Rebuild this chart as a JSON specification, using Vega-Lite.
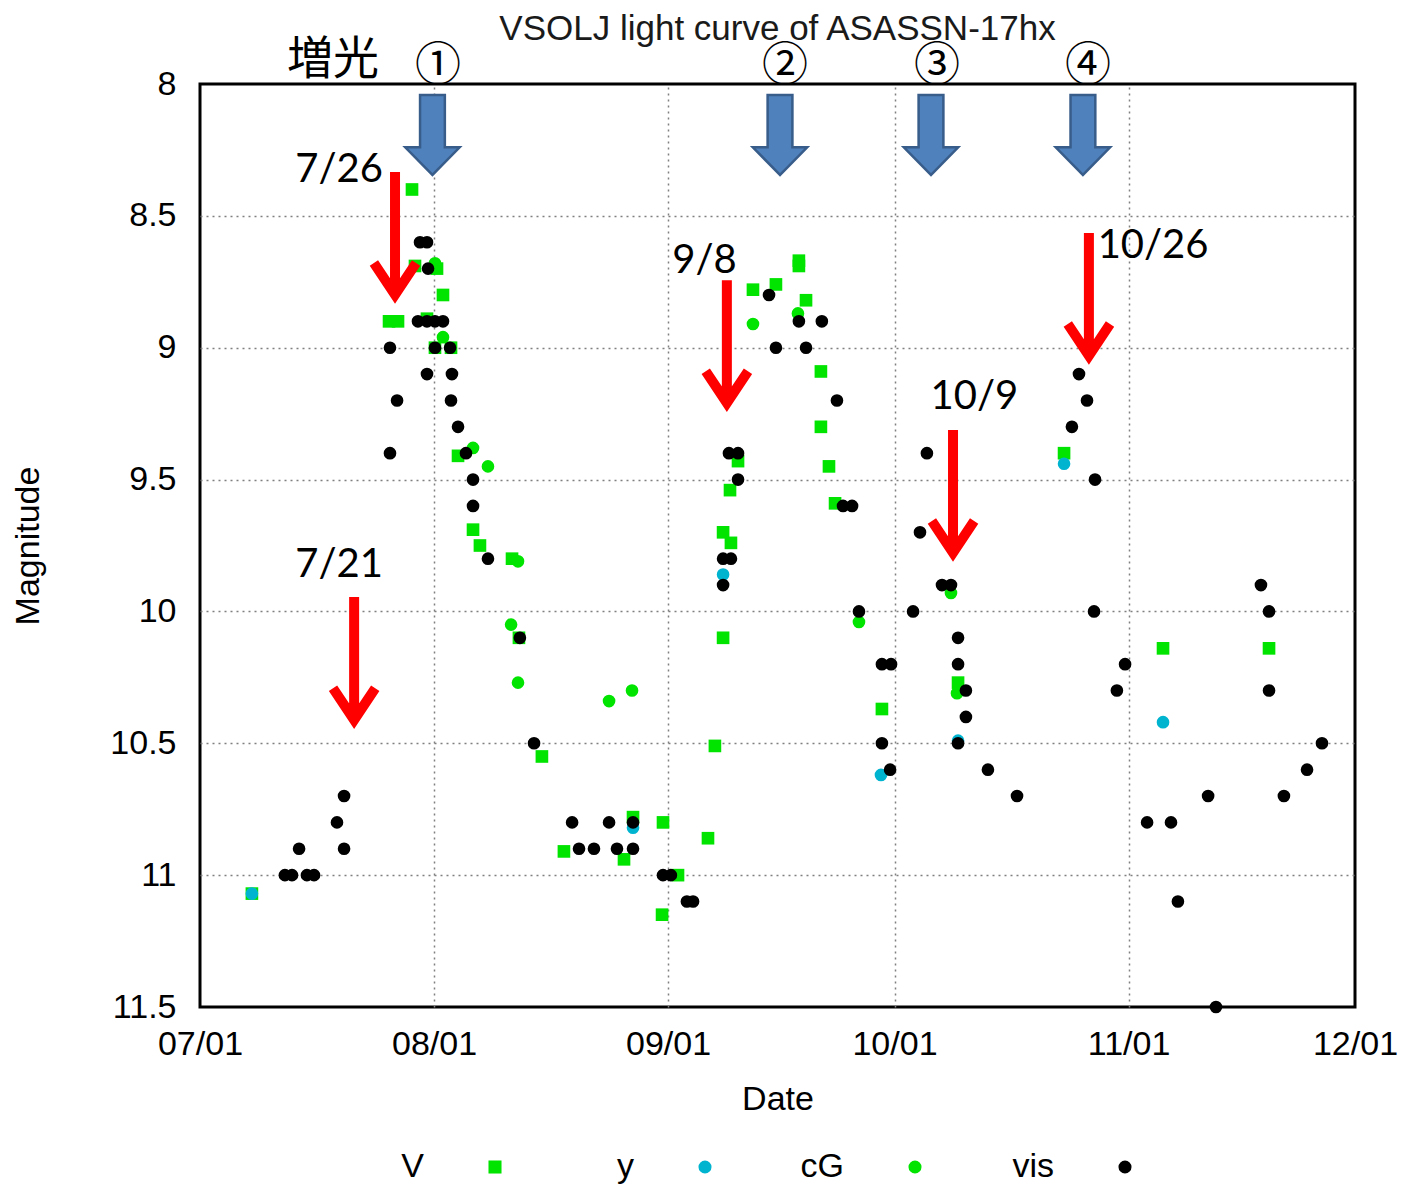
{
  "$schema": "https://vega.github.io/schema/vega-lite/v6.json",
  "width": 1155,
  "height": 923,
  "autosize": {"type": "none"},
  "padding": {"left": 200, "top": 84, "right": 47, "bottom": 178},
  "background": "white",
  "title": {
    "text": "VSOLJ light curve of ASASSN-17hx",
    "font": "Liberation Sans",
    "fontSize": 35,
    "fontWeight": "normal",
    "color": "#1a1a1a",
    "anchor": "middle",
    "frame": "group",
    "offset": 36,
    "dy": 46
  },
  "datasets": {
    "obs": [
      {"date": "2017-07-07T21:00:00Z", "mag": 11.07, "band": "V"},
      {"date": "2017-07-26T01:00:00Z", "mag": 8.90, "band": "V"},
      {"date": "2017-07-27T05:30:00Z", "mag": 8.90, "band": "V"},
      {"date": "2017-07-29T02:00:00Z", "mag": 8.40, "band": "V"},
      {"date": "2017-07-29T11:30:00Z", "mag": 8.69, "band": "V"},
      {"date": "2017-08-01T09:30:00Z", "mag": 8.70, "band": "V"},
      {"date": "2017-07-31T01:40:00Z", "mag": 8.89, "band": "V"},
      {"date": "2017-08-02T04:30:00Z", "mag": 8.80, "band": "V"},
      {"date": "2017-08-01T03:00:00Z", "mag": 9.00, "band": "V"},
      {"date": "2017-08-03T06:00:00Z", "mag": 9.00, "band": "V"},
      {"date": "2017-08-04T04:20:00Z", "mag": 9.41, "band": "V"},
      {"date": "2017-08-06T04:00:00Z", "mag": 9.69, "band": "V"},
      {"date": "2017-08-07T02:00:00Z", "mag": 9.75, "band": "V"},
      {"date": "2017-08-11T08:00:00Z", "mag": 9.80, "band": "V"},
      {"date": "2017-08-12T06:00:00Z", "mag": 10.10, "band": "V"},
      {"date": "2017-08-15T07:00:00Z", "mag": 10.55, "band": "V"},
      {"date": "2017-08-18T05:00:00Z", "mag": 10.91, "band": "V"},
      {"date": "2017-08-26T04:00:00Z", "mag": 10.94, "band": "V"},
      {"date": "2017-08-27T08:40:00Z", "mag": 10.78, "band": "V"},
      {"date": "2017-08-31T08:00:00Z", "mag": 10.80, "band": "V"},
      {"date": "2017-09-02T07:40:00Z", "mag": 11.00, "band": "V"},
      {"date": "2017-08-31T05:00:00Z", "mag": 11.15, "band": "V"},
      {"date": "2017-09-06T07:00:00Z", "mag": 10.86, "band": "V"},
      {"date": "2017-09-07T05:00:00Z", "mag": 10.51, "band": "V"},
      {"date": "2017-09-08T07:00:00Z", "mag": 10.10, "band": "V"},
      {"date": "2017-09-08T07:00:00Z", "mag": 9.70, "band": "V"},
      {"date": "2017-09-09T08:00:00Z", "mag": 9.74, "band": "V"},
      {"date": "2017-09-09T05:00:00Z", "mag": 9.54, "band": "V"},
      {"date": "2017-09-10T06:30:00Z", "mag": 9.43, "band": "V"},
      {"date": "2017-09-12T06:00:00Z", "mag": 8.78, "band": "V"},
      {"date": "2017-09-15T07:00:00Z", "mag": 8.76, "band": "V"},
      {"date": "2017-09-18T08:00:00Z", "mag": 8.67, "band": "V"},
      {"date": "2017-09-18T08:00:00Z", "mag": 8.69, "band": "V"},
      {"date": "2017-09-19T06:40:00Z", "mag": 8.82, "band": "V"},
      {"date": "2017-09-21T06:00:00Z", "mag": 9.09, "band": "V"},
      {"date": "2017-09-21T06:00:00Z", "mag": 9.30, "band": "V"},
      {"date": "2017-09-22T07:40:00Z", "mag": 9.45, "band": "V"},
      {"date": "2017-09-23T03:00:00Z", "mag": 9.59, "band": "V"},
      {"date": "2017-09-29T08:00:00Z", "mag": 10.37, "band": "V"},
      {"date": "2017-10-09T10:00:00Z", "mag": 10.27, "band": "V"},
      {"date": "2017-10-23T11:00:00Z", "mag": 9.40, "band": "V"},
      {"date": "2017-11-05T13:40:00Z", "mag": 10.14, "band": "V"},
      {"date": "2017-11-19T14:40:00Z", "mag": 10.14, "band": "V"},
      {"date": "2017-07-07T21:00:00Z", "mag": 11.07, "band": "y"},
      {"date": "2017-08-27T08:40:00Z", "mag": 10.82, "band": "y"},
      {"date": "2017-09-08T07:00:00Z", "mag": 9.86, "band": "y"},
      {"date": "2017-09-29T05:00:00Z", "mag": 10.62, "band": "y"},
      {"date": "2017-10-09T10:00:00Z", "mag": 10.49, "band": "y"},
      {"date": "2017-10-23T11:00:00Z", "mag": 9.44, "band": "y"},
      {"date": "2017-11-05T13:40:00Z", "mag": 10.42, "band": "y"},
      {"date": "2017-08-01T03:00:00Z", "mag": 8.68, "band": "cG"},
      {"date": "2017-08-02T04:30:00Z", "mag": 8.96, "band": "cG"},
      {"date": "2017-08-06T04:00:00Z", "mag": 9.38, "band": "cG"},
      {"date": "2017-08-08T03:30:00Z", "mag": 9.45, "band": "cG"},
      {"date": "2017-08-12T03:00:00Z", "mag": 9.81, "band": "cG"},
      {"date": "2017-08-11T05:00:00Z", "mag": 10.05, "band": "cG"},
      {"date": "2017-08-12T03:00:00Z", "mag": 10.27, "band": "cG"},
      {"date": "2017-08-24T04:30:00Z", "mag": 10.34, "band": "cG"},
      {"date": "2017-08-27T05:30:00Z", "mag": 10.30, "band": "cG"},
      {"date": "2017-09-12T06:00:00Z", "mag": 8.91, "band": "cG"},
      {"date": "2017-09-18T05:00:00Z", "mag": 8.87, "band": "cG"},
      {"date": "2017-09-26T07:00:00Z", "mag": 10.04, "band": "cG"},
      {"date": "2017-10-08T11:30:00Z", "mag": 9.93, "band": "cG"},
      {"date": "2017-10-09T06:40:00Z", "mag": 10.31, "band": "cG"},
      {"date": "2017-07-12T06:00:00Z", "mag": 11.00, "band": "vis"},
      {"date": "2017-07-13T04:30:00Z", "mag": 11.00, "band": "vis"},
      {"date": "2017-07-14T03:00:00Z", "mag": 10.90, "band": "vis"},
      {"date": "2017-07-15T04:00:00Z", "mag": 11.00, "band": "vis"},
      {"date": "2017-07-16T02:30:00Z", "mag": 11.00, "band": "vis"},
      {"date": "2017-07-19T03:30:00Z", "mag": 10.80, "band": "vis"},
      {"date": "2017-07-20T02:00:00Z", "mag": 10.70, "band": "vis"},
      {"date": "2017-07-20T02:00:00Z", "mag": 10.90, "band": "vis"},
      {"date": "2017-07-26T04:00:00Z", "mag": 9.00, "band": "vis"},
      {"date": "2017-07-27T02:30:00Z", "mag": 9.20, "band": "vis"},
      {"date": "2017-07-26T04:00:00Z", "mag": 9.40, "band": "vis"},
      {"date": "2017-07-30T03:30:00Z", "mag": 8.60, "band": "vis"},
      {"date": "2017-07-31T01:40:00Z", "mag": 8.60, "band": "vis"},
      {"date": "2017-07-31T05:00:00Z", "mag": 8.70, "band": "vis"},
      {"date": "2017-07-29T21:00:00Z", "mag": 8.90, "band": "vis"},
      {"date": "2017-07-31T01:40:00Z", "mag": 8.90, "band": "vis"},
      {"date": "2017-08-01T03:00:00Z", "mag": 8.90, "band": "vis"},
      {"date": "2017-08-02T04:30:00Z", "mag": 8.90, "band": "vis"},
      {"date": "2017-08-01T03:00:00Z", "mag": 9.00, "band": "vis"},
      {"date": "2017-08-03T03:00:00Z", "mag": 9.00, "band": "vis"},
      {"date": "2017-07-31T01:40:00Z", "mag": 9.10, "band": "vis"},
      {"date": "2017-08-03T09:00:00Z", "mag": 9.10, "band": "vis"},
      {"date": "2017-08-03T06:00:00Z", "mag": 9.20, "band": "vis"},
      {"date": "2017-08-04T04:20:00Z", "mag": 9.30, "band": "vis"},
      {"date": "2017-08-05T05:40:00Z", "mag": 9.40, "band": "vis"},
      {"date": "2017-08-06T04:00:00Z", "mag": 9.50, "band": "vis"},
      {"date": "2017-08-06T04:00:00Z", "mag": 9.60, "band": "vis"},
      {"date": "2017-08-08T03:30:00Z", "mag": 9.80, "band": "vis"},
      {"date": "2017-08-12T09:00:00Z", "mag": 10.10, "band": "vis"},
      {"date": "2017-08-14T06:00:00Z", "mag": 10.50, "band": "vis"},
      {"date": "2017-08-19T07:00:00Z", "mag": 10.80, "band": "vis"},
      {"date": "2017-08-20T05:00:00Z", "mag": 10.90, "band": "vis"},
      {"date": "2017-08-22T04:30:00Z", "mag": 10.90, "band": "vis"},
      {"date": "2017-08-24T04:30:00Z", "mag": 10.80, "band": "vis"},
      {"date": "2017-08-25T05:40:00Z", "mag": 10.90, "band": "vis"},
      {"date": "2017-08-27T08:40:00Z", "mag": 10.80, "band": "vis"},
      {"date": "2017-08-27T08:40:00Z", "mag": 10.90, "band": "vis"},
      {"date": "2017-08-31T08:00:00Z", "mag": 11.00, "band": "vis"},
      {"date": "2017-09-01T09:00:00Z", "mag": 11.00, "band": "vis"},
      {"date": "2017-09-03T12:00:00Z", "mag": 11.10, "band": "vis"},
      {"date": "2017-09-04T07:30:00Z", "mag": 11.10, "band": "vis"},
      {"date": "2017-09-08T07:00:00Z", "mag": 9.90, "band": "vis"},
      {"date": "2017-09-08T07:00:00Z", "mag": 9.80, "band": "vis"},
      {"date": "2017-09-09T08:00:00Z", "mag": 9.80, "band": "vis"},
      {"date": "2017-09-09T01:40:00Z", "mag": 9.40, "band": "vis"},
      {"date": "2017-09-10T06:30:00Z", "mag": 9.40, "band": "vis"},
      {"date": "2017-09-10T06:30:00Z", "mag": 9.50, "band": "vis"},
      {"date": "2017-09-14T09:00:00Z", "mag": 8.80, "band": "vis"},
      {"date": "2017-09-15T07:00:00Z", "mag": 9.00, "band": "vis"},
      {"date": "2017-09-18T08:00:00Z", "mag": 8.90, "band": "vis"},
      {"date": "2017-09-19T06:40:00Z", "mag": 9.00, "band": "vis"},
      {"date": "2017-09-21T09:00:00Z", "mag": 8.90, "band": "vis"},
      {"date": "2017-09-23T09:00:00Z", "mag": 9.20, "band": "vis"},
      {"date": "2017-09-24T04:20:00Z", "mag": 9.60, "band": "vis"},
      {"date": "2017-09-25T09:00:00Z", "mag": 9.60, "band": "vis"},
      {"date": "2017-09-26T07:00:00Z", "mag": 10.00, "band": "vis"},
      {"date": "2017-09-29T08:00:00Z", "mag": 10.20, "band": "vis"},
      {"date": "2017-09-30T13:00:00Z", "mag": 10.20, "band": "vis"},
      {"date": "2017-09-29T08:00:00Z", "mag": 10.50, "band": "vis"},
      {"date": "2017-09-30T10:00:00Z", "mag": 10.60, "band": "vis"},
      {"date": "2017-10-03T11:00:00Z", "mag": 10.00, "band": "vis"},
      {"date": "2017-10-04T09:00:00Z", "mag": 9.70, "band": "vis"},
      {"date": "2017-10-05T07:00:00Z", "mag": 9.40, "band": "vis"},
      {"date": "2017-10-07T07:00:00Z", "mag": 9.90, "band": "vis"},
      {"date": "2017-10-08T11:30:00Z", "mag": 9.90, "band": "vis"},
      {"date": "2017-10-09T10:00:00Z", "mag": 10.10, "band": "vis"},
      {"date": "2017-10-09T10:00:00Z", "mag": 10.20, "band": "vis"},
      {"date": "2017-10-10T11:00:00Z", "mag": 10.30, "band": "vis"},
      {"date": "2017-10-10T11:00:00Z", "mag": 10.40, "band": "vis"},
      {"date": "2017-10-09T10:00:00Z", "mag": 10.50, "band": "vis"},
      {"date": "2017-10-13T09:00:00Z", "mag": 10.60, "band": "vis"},
      {"date": "2017-10-17T05:30:00Z", "mag": 10.70, "band": "vis"},
      {"date": "2017-10-24T12:00:00Z", "mag": 9.30, "band": "vis"},
      {"date": "2017-10-25T10:30:00Z", "mag": 9.10, "band": "vis"},
      {"date": "2017-10-26T12:00:00Z", "mag": 9.20, "band": "vis"},
      {"date": "2017-10-27T13:30:00Z", "mag": 9.50, "band": "vis"},
      {"date": "2017-10-27T10:20:00Z", "mag": 10.00, "band": "vis"},
      {"date": "2017-10-30T11:00:00Z", "mag": 10.30, "band": "vis"},
      {"date": "2017-10-31T13:00:00Z", "mag": 10.20, "band": "vis"},
      {"date": "2017-11-03T11:00:00Z", "mag": 10.80, "band": "vis"},
      {"date": "2017-11-06T15:00:00Z", "mag": 10.80, "band": "vis"},
      {"date": "2017-11-07T13:00:00Z", "mag": 11.10, "band": "vis"},
      {"date": "2017-11-11T13:00:00Z", "mag": 10.70, "band": "vis"},
      {"date": "2017-11-12T14:00:00Z", "mag": 11.50, "band": "vis"},
      {"date": "2017-11-18T13:00:00Z", "mag": 9.90, "band": "vis"},
      {"date": "2017-11-19T14:40:00Z", "mag": 10.00, "band": "vis"},
      {"date": "2017-11-19T14:40:00Z", "mag": 10.30, "band": "vis"},
      {"date": "2017-11-21T14:00:00Z", "mag": 10.70, "band": "vis"},
      {"date": "2017-11-24T15:30:00Z", "mag": 10.60, "band": "vis"},
      {"date": "2017-11-26T15:00:00Z", "mag": 10.50, "band": "vis"}
    ],
    "blueArrows": [
      {"date": "2017-07-31T19:00:00Z", "mag": 8.193},
      {"date": "2017-09-15T20:00:00Z", "mag": 8.193},
      {"date": "2017-10-05T20:00:00Z", "mag": 8.193},
      {"date": "2017-10-25T23:00:00Z", "mag": 8.193}
    ],
    "redArrows": [
      {"date": "2017-07-26T20:00:00Z", "mag": 8.584},
      {"date": "2017-07-21T10:00:00Z", "mag": 10.196},
      {"date": "2017-09-08T19:00:00Z", "mag": 8.994},
      {"date": "2017-10-08T18:00:00Z", "mag": 9.562},
      {"date": "2017-10-26T18:00:00Z", "mag": 8.815}
    ],
    "dateNotes": [
      {"date": "2017-07-19T10:00:00Z", "mag": 8.372, "note": "7/26"},
      {"date": "2017-07-19T10:00:00Z", "mag": 9.870, "note": "7/21"},
      {"date": "2017-09-05T20:00:00Z", "mag": 8.717, "note": "9/8"},
      {"date": "2017-10-11T14:00:00Z", "mag": 9.232, "note": "10/9"},
      {"date": "2017-11-04T06:00:00Z", "mag": 8.660, "note": "10/26"}
    ],
    "jpNotes": [
      {"date": "2017-07-18T15:00:00Z", "mag": 7.962, "note": "増光"},
      {"date": "2017-08-01T13:00:00Z", "mag": 7.985, "note": "①"},
      {"date": "2017-09-16T12:00:00Z", "mag": 7.985, "note": "②"},
      {"date": "2017-10-06T15:00:00Z", "mag": 7.985, "note": "③"},
      {"date": "2017-10-26T15:00:00Z", "mag": 7.985, "note": "④"}
    ]
  },
  "layer": [
    {
      "data": {"name": "obs"},
      "mark": {"type": "point", "filled": true, "size": 160, "opacity": 1, "strokeWidth": 0},
      "encoding": {
        "x": {
          "field": "date", "type": "temporal",
          "scale": {"type": "utc", "nice": false, "domain": [{"year": 2017, "month": 7, "date": 1, "utc": true}, {"year": 2017, "month": 12, "date": 1, "utc": true}]},
          "axis": {
            "title": "Date",
            "values": [
              {"year": 2017, "month": 7, "date": 1, "utc": true}, {"year": 2017, "month": 7, "date": 11, "utc": true}, {"year": 2017, "month": 7, "date": 21, "utc": true},
              {"year": 2017, "month": 8, "date": 1, "utc": true}, {"year": 2017, "month": 8, "date": 11, "utc": true}, {"year": 2017, "month": 8, "date": 21, "utc": true},
              {"year": 2017, "month": 9, "date": 1, "utc": true}, {"year": 2017, "month": 9, "date": 11, "utc": true}, {"year": 2017, "month": 9, "date": 21, "utc": true},
              {"year": 2017, "month": 10, "date": 1, "utc": true}, {"year": 2017, "month": 10, "date": 11, "utc": true}, {"year": 2017, "month": 10, "date": 21, "utc": true},
              {"year": 2017, "month": 11, "date": 1, "utc": true}, {"year": 2017, "month": 11, "date": 11, "utc": true}, {"year": 2017, "month": 11, "date": 21, "utc": true},
              {"year": 2017, "month": 12, "date": 1, "utc": true}
            ],
            "labelExpr": "utcdate(datum.value) == 1 ? utcFormat(datum.value, '%m/%d') : ''",
            "grid": true,
            "gridOpacity": {"condition": {"test": "utcdate(datum.value) == 1 && utcmonth(datum.value) >= 7 && utcmonth(datum.value) <= 10", "value": 1}, "value": 0},
            "tickSize": 0,
            "labelPadding": 20,
            "titlePadding": 21,
            "labelFlush": false,
            "labelOverlap": false,
            "encode": {
              "ticks": {"y2": {"condition": {"test": "utcdate(datum.value) == 1", "value": -13}, "value": -7}}
            }
          }
        },
        "y": {
          "field": "mag", "type": "quantitative",
          "scale": {"domain": [8, 11.5], "reverse": true, "nice": false, "zero": false},
          "axis": {
            "title": "Magnitude",
            "values": [8, 8.5, 9, 9.5, 10, 10.5, 11, 11.5],
            "format": ".1~f",
            "grid": true,
            "gridOpacity": {"condition": {"test": "datum.value > 8.01 && datum.value < 11.49", "value": 1}, "value": 0},
            "tickSize": 0,
            "labelPadding": 24,
            "titlePadding": 64,
            "labelFlush": false,
            "labelOverlap": false,
            "encode": {
              "ticks": {"x2": {"value": 12}}
            }
          }
        },
        "color": {
          "field": "band", "type": "nominal",
          "scale": {"domain": ["V", "y", "cG", "vis"], "range": ["#00e400", "#00b4d0", "#00e400", "#000000"]},
          "legend": {
            "title": null,
            "orient": "none",
            "legendX": 278,
            "legendY": 1066,
            "direction": "horizontal",
            "labelAlign": "right",
            "labelOffset": -88,
            "gridAlign": "all",
            "columnPadding": 88,
            "symbolSize": 170,
            "padding": 0
          }
        },
        "shape": {
          "field": "band", "type": "nominal",
          "scale": {"domain": ["V", "y", "cG", "vis"], "range": ["square", "circle", "circle", "circle"]},
          "legend": {
            "title": null,
            "orient": "none",
            "legendX": 278,
            "legendY": 1066,
            "direction": "horizontal",
            "labelAlign": "right",
            "labelOffset": -88,
            "gridAlign": "all",
            "columnPadding": 88,
            "symbolSize": 170,
            "padding": 0
          }
        }
      }
    },
    {
      "data": {"name": "blueArrows"},
      "mark": {
        "type": "point", "filled": true, "size": 6400,
        "shape": "M-0.31,-1L0.31,-1L0.31,0.31L0.68,0.31L0,1L-0.68,0.31L-0.31,0.31Z",
        "fill": "#4f81bd", "stroke": "#385d8a", "strokeWidth": 2.5, "opacity": 1, "fillOpacity": 1
      },
      "encoding": {
        "x": {
          "field": "date", "type": "temporal",
          "scale": {"type": "utc", "nice": false, "domain": [{"year": 2017, "month": 7, "date": 1, "utc": true}, {"year": 2017, "month": 12, "date": 1, "utc": true}]},
          "axis": {
            "orient": "top",
            "title": null,
            "labels": false,
            "grid": false,
            "domain": false,
            "tickSize": 0,
            "values": [
              {"year": 2017, "month": 7, "date": 1, "utc": true}, {"year": 2017, "month": 7, "date": 11, "utc": true}, {"year": 2017, "month": 7, "date": 21, "utc": true},
              {"year": 2017, "month": 8, "date": 1, "utc": true}, {"year": 2017, "month": 8, "date": 11, "utc": true}, {"year": 2017, "month": 8, "date": 21, "utc": true},
              {"year": 2017, "month": 9, "date": 1, "utc": true}, {"year": 2017, "month": 9, "date": 11, "utc": true}, {"year": 2017, "month": 9, "date": 21, "utc": true},
              {"year": 2017, "month": 10, "date": 1, "utc": true}, {"year": 2017, "month": 10, "date": 11, "utc": true}, {"year": 2017, "month": 10, "date": 21, "utc": true},
              {"year": 2017, "month": 11, "date": 1, "utc": true}, {"year": 2017, "month": 11, "date": 11, "utc": true}, {"year": 2017, "month": 11, "date": 21, "utc": true},
              {"year": 2017, "month": 12, "date": 1, "utc": true}
            ],
            "encode": {
              "ticks": {"y2": {"condition": {"test": "utcdate(datum.value) == 1", "value": 13}, "value": 7}}
            }
          }
        },
        "y": {
          "field": "mag", "type": "quantitative",
          "scale": {"domain": [8, 11.5], "reverse": true, "nice": false, "zero": false},
          "axis": {
            "orient": "right",
            "title": null,
            "labels": false,
            "grid": false,
            "domain": false,
            "tickSize": 0,
            "values": [8, 8.5, 9, 9.5, 10, 10.5, 11, 11.5],
            "encode": {
              "ticks": {"x2": {"value": -12}}
            }
          }
        }
      }
    },
    {
      "data": {"name": "redArrows"},
      "mark": {
        "type": "point", "filled": false, "size": 17424,
        "shape": "M0,-1L0,0.86M-0.32,0.38L0,0.86L0.32,0.38",
        "stroke": "#ff0000", "strokeWidth": 10, "strokeJoin": "miter", "strokeCap": "butt", "opacity": 1
      },
      "encoding": {
        "x": {"field": "date", "type": "temporal", "axis": null,
          "scale": {"type": "utc", "nice": false, "domain": [{"year": 2017, "month": 7, "date": 1, "utc": true}, {"year": 2017, "month": 12, "date": 1, "utc": true}]}},
        "y": {"field": "mag", "type": "quantitative", "axis": null,
          "scale": {"domain": [8, 11.5], "reverse": true, "nice": false, "zero": false}}
      }
    },
    {
      "data": {"name": "dateNotes"},
      "mark": {"type": "text", "font": "Lato", "fontSize": 40, "color": "#000000", "align": "center", "baseline": "alphabetic"},
      "encoding": {
        "x": {"field": "date", "type": "temporal", "axis": null,
          "scale": {"type": "utc", "nice": false, "domain": [{"year": 2017, "month": 7, "date": 1, "utc": true}, {"year": 2017, "month": 12, "date": 1, "utc": true}]}},
        "y": {"field": "mag", "type": "quantitative", "axis": null,
          "scale": {"domain": [8, 11.5], "reverse": true, "nice": false, "zero": false}},
        "text": {"field": "note", "type": "nominal"}
      }
    },
    {
      "data": {"name": "jpNotes"},
      "mark": {"type": "text", "font": "Noto Sans CJK JP", "fontSize": 46, "color": "#000000", "align": "center", "baseline": "alphabetic"},
      "encoding": {
        "x": {"field": "date", "type": "temporal", "axis": null,
          "scale": {"type": "utc", "nice": false, "domain": [{"year": 2017, "month": 7, "date": 1, "utc": true}, {"year": 2017, "month": 12, "date": 1, "utc": true}]}},
        "y": {"field": "mag", "type": "quantitative", "axis": null,
          "scale": {"domain": [8, 11.5], "reverse": true, "nice": false, "zero": false}},
        "text": {"field": "note", "type": "nominal"}
      }
    }
  ],
  "resolve": {"axis": {"x": "independent", "y": "independent"}},
  "config": {
    "view": {"stroke": "#000000", "strokeWidth": 3},
    "axis": {
      "labelFont": "Liberation Sans",
      "labelFontSize": 34,
      "labelColor": "#000000",
      "titleFont": "Liberation Sans",
      "titleFontSize": 34,
      "titleFontWeight": "normal",
      "titleColor": "#000000",
      "tickColor": "#000000",
      "tickWidth": 2.5,
      "gridColor": "#808080",
      "gridDash": [2, 4],
      "gridWidth": 1.5,
      "domain": false
    },
    "legend": {
      "labelFont": "Liberation Sans",
      "labelFontSize": 34,
      "labelColor": "#000000",
      "labelLimit": 0
    }
  }
}
